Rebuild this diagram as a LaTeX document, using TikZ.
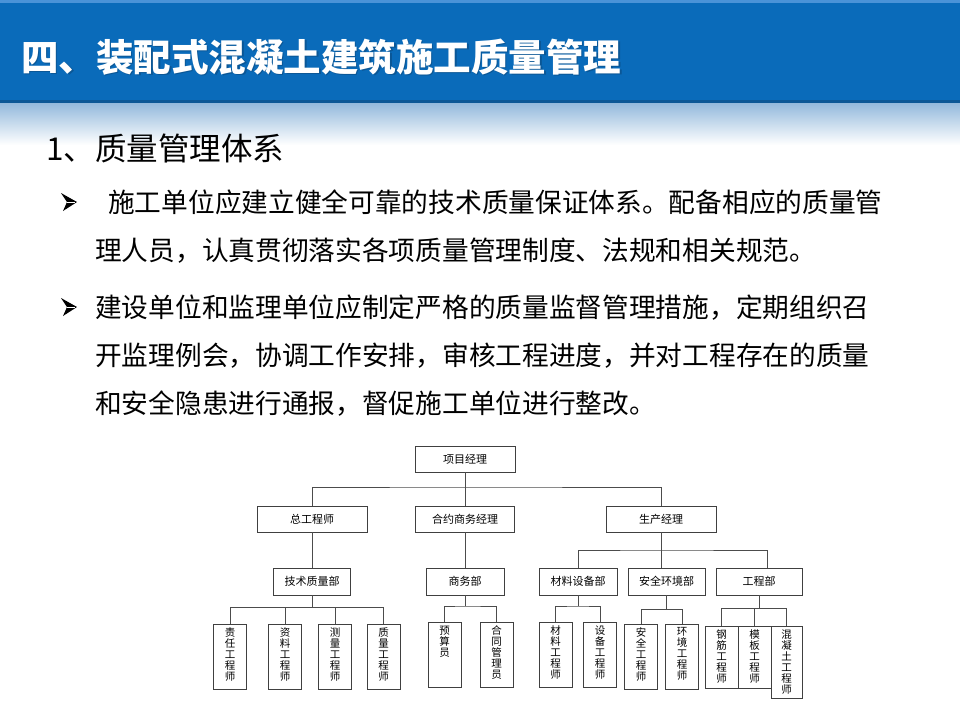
\documentclass[tikz,border=0pt]{standalone}
\usepackage{fontspec}
\setmainfont{Noto Sans CJK SC}
\newfontfamily\cjk{Noto Sans CJK SC}
\usetikzlibrary{calc}
\definecolor{headblue}{HTML}{0A6BBA}
\definecolor{headtop}{HTML}{4A93D8}
\definecolor{headdark}{HTML}{0B5796}
\definecolor{fadeblue}{HTML}{93B9DC}
\begin{document}
\begin{tikzpicture}[x=1pt,y=-1pt,
  box/.style={draw=black!75, line width=0.9pt, fill=white, inner sep=0pt, font=\cjk\fontsize{11}{12}\selectfont},
  hbox/.style={box, minimum height=26pt},
  leaf/.style={draw=black!75, line width=0.9pt, fill=white, inner sep=0pt, minimum width=33pt},
  leaftext/.style={anchor=north, inner sep=0pt, align=center, yshift=-4pt, font=\cjk\fontsize{10.5}{11}\selectfont},
  conn/.style={draw=black!70, line width=0.9pt},
  body/.style={anchor=west, inner sep=0pt, font=\cjk\fontsize{26.7}{28}\selectfont},
  arrowbullet/.pic={
    \fill[black] (-8,-9) -- (8,0) -- (-6,9) -- (-2,0) -- cycle;
    \draw[white, line width=0.5pt] (-2,0) -- (6,0);
  }]
\useasboundingbox (0,0) rectangle (960,720);
% header
\fill[white] (0,0) rectangle (960,720);
\fill[headblue] (0,0) rectangle (960,103);
\fill[headtop] (0,0) rectangle (960,3);
\fill[headdark] (0,100) rectangle (960,103);
\shade[top color=fadeblue, bottom color=white] (0,103) rectangle (960,145);
\node[anchor=west, inner sep=0pt, text=headdark, font=\cjk\bfseries\fontsize{37.5}{40}\selectfont] (titleshadow) at (22.5,58.5) {四、装配式混凝土建筑施工质量管理};
\node[anchor=west, inner sep=0pt, text=white, font=\cjk\bfseries\fontsize{37.5}{40}\selectfont] (title) at (21,57) {四、装配式混凝土建筑施工质量管理};
% body text
\node[anchor=west, inner sep=0pt, font=\cjk\fontsize{31.5}{33}\selectfont] (h1) at (46,148) {1、质量管理体系};
\pic at (69,202) {arrowbullet};
\node[body] (l1) at (108,202) {施工单位应建立健全可靠的技术质量保证体系。配备相应的质量管};
\node[body] (l2) at (95,251) {理人员，认真贯彻落实各项质量管理制度、法规和相关规范。};
\pic at (69,307) {arrowbullet};
\node[body] (l3) at (95,308) {建设单位和监理单位应制定严格的质量监督管理措施，定期组织召};
\node[body] (l4) at (95,356) {开监理例会，协调工作安排，审核工程进度，并对工程存在的质量};
\node[body] (l5) at (95,404) {和安全隐患进行通报，督促施工单位进行整改。};
% org chart level 0-1
\node[hbox, minimum width=100pt] (pm) at (465,459) {项目经理};
\node[hbox, minimum width=110pt] (ce) at (312,519) {总工程师};
\node[hbox, minimum width=99pt] (cm) at (465,519) {合约商务经理};
\node[hbox, minimum width=110pt] (prod) at (661,519) {生产经理};
\coordinate (b1) at (465,487);
\draw[conn] (pm.south) -- (cm.north);
\draw[conn] (ce.north) |- (b1) -| (prod.north);
% level 2
\node[box, minimum width=77pt, minimum height=27pt] (tq) at (312,581.5) {技术质量部};
\node[box, minimum width=78pt, minimum height=27pt] (sw) at (465,581.5) {商务部};
\node[box, minimum width=78pt, minimum height=27pt] (md) at (578,581.5) {材料设备部};
\node[box, minimum width=77pt, minimum height=27pt] (se) at (666.5,581.5) {安全环境部};
\node[box, minimum width=86pt, minimum height=27pt] (gc) at (759,581.5) {工程部};
\draw[conn] (ce.south) -- (tq.north);
\draw[conn] (cm.south) -- (sw.north);
\coordinate (b2) at (661,550);
\draw[conn] (md.north) |- (b2) -| ([xshift=8pt]gc.north);
\draw[conn] (prod.south) -- (prod.south |- se.north);
% level 3 leaves
\node[leaf, minimum height=65pt] (zr) at (230,656.5) {};
\node[leaf, minimum height=65pt] (zl) at (285,656.5) {};
\node[leaf, minimum height=65pt] (cl) at (335,656.5) {};
\node[leaf, minimum height=65pt] (zlg) at (383.5,656.5) {};
\node[leaftext] (zr-t) at (zr.north) {责\\任\\工\\程\\师};
\node[leaftext] (zl-t) at (zl.north) {资\\料\\工\\程\\师};
\node[leaftext] (cl-t) at (cl.north) {测\\量\\工\\程\\师};
\node[leaftext] (zlg-t) at (zlg.north) {质\\量\\工\\程\\师};
\coordinate (b3) at (312,607);
\draw[conn] (tq.south) -- (b3);
\draw[conn] (zr.north) |- (b3) -| (zlg.north);
\draw[conn] (zl.north) -- (zl.north |- b3);
\draw[conn] (cl.north) -- (cl.north |- b3);

\node[leaf, minimum height=65pt] (ys) at (444.5,654.5) {};
\node[leaf, minimum height=65pt] (ht) at (496.5,654.5) {};
\node[leaftext] (ys-t) at (ys.north) {预\\算\\员};
\node[leaftext] (ht-t) at (ht.north) {合\\同\\管\\理\\员};
\coordinate (b4) at (465,606);
\draw[conn] (sw.south) -- (b4);
\draw[conn] (ys.north) |- (b4) -| (ht.north);

\node[leaf, minimum height=65pt] (cl2) at (555.5,654.5) {};
\node[leaf, minimum height=65pt] (sb) at (600,654.5) {};
\node[leaftext] (cl2-t) at (cl2.north) {材\\料\\工\\程\\师};
\node[leaftext] (sb-t) at (sb.north) {设\\备\\工\\程\\师};
\coordinate (b5) at (578,606);
\draw[conn] (md.south) -- (b5);
\draw[conn] (cl2.north) |- (b5) -| (sb.north);

\node[leaf, minimum height=65pt] (aq) at (641,656.5) {};
\node[leaf, minimum height=65pt] (hj) at (682,656.5) {};
\node[leaftext] (aq-t) at (aq.north) {安\\全\\工\\程\\师};
\node[leaftext] (hj-t) at (hj.north) {环\\境\\工\\程\\师};
\coordinate (b6) at (666.5,609);
\draw[conn] (se.south) -- (b6);
\draw[conn] (aq.north) |- (b6) -| (hj.north);

\node[leaf, minimum height=62pt] (gj) at (721.5,657) {};
\node[leaf, minimum height=62pt] (mb) at (754.5,657) {};
\node[leaf, minimum height=72pt, minimum width=31pt] (hnt) at (786.5,662) {};
\node[leaftext] (gj-t) at (gj.north) {钢\\筋\\工\\程\\师};
\node[leaftext] (mb-t) at (mb.north) {模\\板\\工\\程\\师};
\node[leaftext] (hnt-t) at (hnt.north) {混\\凝\\土\\工\\程\\师};
\coordinate (b7) at (759,608);
\draw[conn] (gc.south) -- (b7);
\draw[conn] (gj.north) |- (b7) -| (hnt.north);
\draw[conn] (mb.north) -- (mb.north |- b7);
\end{tikzpicture}
\end{document}
